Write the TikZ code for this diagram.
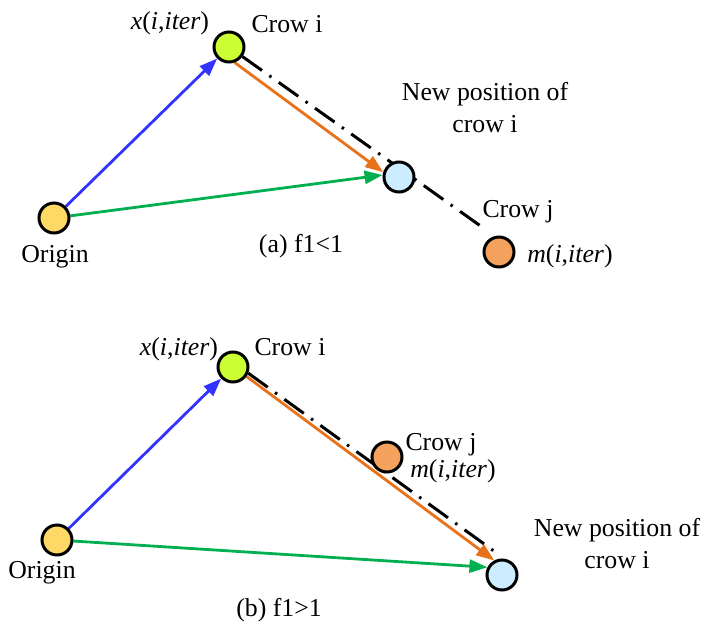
\documentclass[tikz,border=0pt]{standalone}
\usepackage{fontspec}
\setmainfont{Liberation Serif}
\usetikzlibrary{arrows.meta,backgrounds}
\definecolor{cOrigin}{RGB}{255,217,102}
\definecolor{cCrowI}{RGB}{204,255,51}
\definecolor{cNew}{RGB}{204,236,255}
\definecolor{cCrowJ}{RGB}{244,162,94}
\definecolor{cBlue}{RGB}{51,51,255}
\definecolor{cGreen}{RGB}{0,176,80}
\definecolor{cOrange}{RGB}{232,114,26}
\tikzset{
  dot/.style={circle,draw=black,line width=3pt,minimum size=30pt,inner sep=0pt},
  lbl/.style={anchor=base,inner sep=0pt,font=\fontsize{25.8}{32}\selectfont},
  arr/.style={line width=2.8pt,-{Triangle[length=18pt,width=13pt]}},
  dashdot/.style={line width=3pt,black,dash pattern=on 24pt off 9pt on 2.5pt off 9pt},
}
\begin{document}
\begin{tikzpicture}[x=1pt,y=-1pt]
\useasboundingbox (0,0) rectangle (702,627);
% ---------- panel (a)
\node[dot,fill=cOrigin] (oa) at (54,218) {};
\node[dot,fill=cCrowI] (ia) at (229,47) {};
\node[dot,fill=cNew] (na) at (399,177) {};
\node[dot,fill=cCrowJ] (ja) at (499,252) {};
\coordinate (dda) at (482,227);
\node[lbl] (xa) at (170,29) {\textit{x}(\textit{i},\textit{iter})};
\node[lbl] (cia) at (287,32) {Crow i};
\node[lbl,align=center] (npa) at (485,132) {New position of\\crow i};
\node[lbl] (cja) at (518,217) {Crow j};
\node[lbl] (ma) at (570,262) {\textit{m}(\textit{i},\textit{iter})};
\node[lbl] (ora) at (55,262) {Origin};
\node[lbl] (capa) at (301,252) {(a) f1<1};
\begin{scope}[on background layer]
  \draw[dashdot] (ia) -- (dda);
  \draw[arr,cBlue] (oa) -- (ia);
  \draw[arr,cGreen] (oa) -- (na.173);
  \draw[arr,cOrange] (ia.-70) -- (na.163);
\end{scope}
% ---------- panel (b)
\node[dot,fill=cOrigin] (ob) at (57,540) {};
\node[dot,fill=cCrowI] (ib) at (233,367) {};
\node[dot,fill=cNew] (nb) at (502,575) {};
\coordinate (ddb) at (498,554);
\node[lbl] (xb) at (179,355) {\textit{x}(\textit{i},\textit{iter})};
\node[lbl] (cib) at (290,355) {Crow i};
\node[lbl] (cjb) at (441,450) {Crow j};
\node[lbl] (mb) at (453,477) {\textit{m}(\textit{i},\textit{iter})};
\node[lbl,align=center] (npb) at (617,568) {New position of\\crow i};
\node[lbl] (orb) at (42,578) {Origin};
\node[lbl] (capb) at (279,616) {(b) f1>1};
\begin{scope}[on background layer]
  \draw[arr,cBlue] (ob) -- (ib);
  \draw[arr,cGreen] (ob) -- (nb.152);
  \draw[arr,cOrange] (ib.-35) -- (nb.118);
  \draw[dashdot] (ib.-22) -- (ddb);
\end{scope}
\node[dot,fill=cCrowJ] (jb) at (387,457) {};
\end{tikzpicture}
\end{document}
